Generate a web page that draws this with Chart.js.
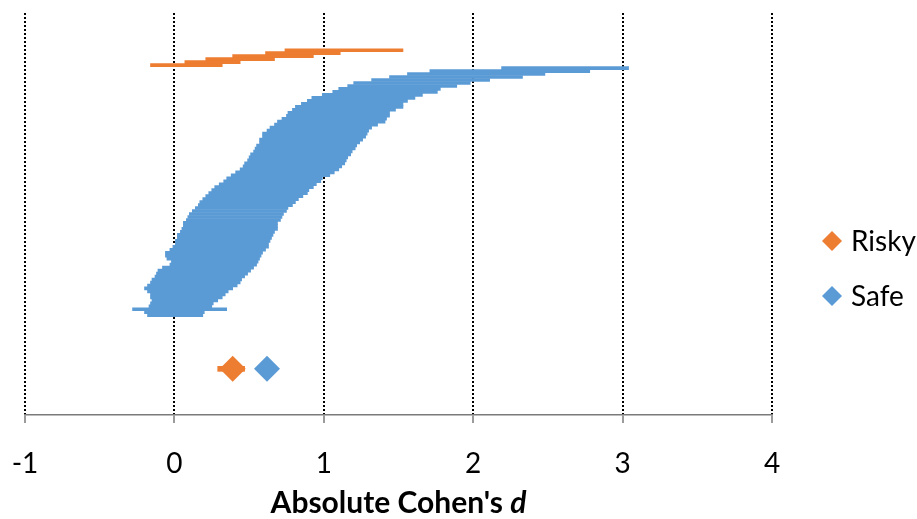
<!DOCTYPE html>
<html><head><meta charset="utf-8">
<script src="https://cdn.jsdelivr.net/npm/chart.js@4.4.1/dist/chart.umd.min.js"></script>
<style>html,body{margin:0;padding:0;background:#fff}</style>
</head><body>
<canvas id="c" width="917" height="519"></canvas>
<script>
// ---- data ----
const xTickValues = [-1, 0, 1, 2, 3, 4];
const groups = ['Risky', 'Safe'];
const riskyLower = [0.74, 0.61, 0.39, 0.21, 0.07, -0.16];
const riskyUpper = [1.53, 1.11, 0.93, 0.67, 0.44, 0.32];
const safeLower = [2.19,1.71,1.56,1.44,1.32,1.20,1.16,1.10,1.06,0.99,0.92,0.89,0.85,0.81,0.79,0.76,0.75,0.72,0.69,0.67,0.64,0.62,0.59,0.59,0.57,0.57,0.55,0.54,0.53,0.51,0.50,0.49,0.47,0.46,0.44,0.41,0.38,0.35,0.33,0.30,0.27,0.25,0.23,0.21,0.19,0.17,0.16,0.14,0.12,0.10,0.09,0.08,0.06,0.06,0.05,0.04,0.02,0.02,0.00,0.00,-0.01,-0.03,-0.06,-0.06,-0.05,-0.02,-0.03,-0.08,-0.11,-0.12,-0.13,-0.15,-0.16,-0.18,-0.20,-0.18,-0.16,-0.16,-0.15,-0.16,-0.17,-0.28,-0.20,-0.18];
const safeUpper = [3.04,2.78,2.48,2.33,2.11,1.98,1.89,1.78,1.76,1.66,1.61,1.56,1.53,1.53,1.48,1.44,1.44,1.42,1.41,1.36,1.32,1.30,1.29,1.28,1.26,1.24,1.22,1.21,1.19,1.18,1.16,1.15,1.14,1.12,1.10,1.07,1.04,0.99,0.98,0.95,0.93,0.90,0.89,0.86,0.83,0.81,0.79,0.76,0.75,0.73,0.72,0.71,0.69,0.69,0.69,0.67,0.66,0.65,0.64,0.63,0.63,0.61,0.59,0.58,0.57,0.56,0.55,0.53,0.51,0.49,0.47,0.45,0.44,0.42,0.39,0.36,0.34,0.32,0.29,0.26,0.25,0.35,0.20,0.19];
const pooledEffect = [0.39, 0.62];
const pooledLower = [0.29, 0.57];
const pooledUpper = [0.47, 0.67];
const pooledRow = 107;
const groupColors = ['#ED7D31', '#5B9BD5'];

// rows: risky studies first, then safe studies, pooled estimates below
const riskyData = riskyLower.map((lo, i) => ({ x: [lo, riskyUpper[i]], y: i }));
const safeData = safeLower.map((lo, i) => ({ x: [lo, safeUpper[i]], y: riskyLower.length + i }));

const titlePlugin = {
  id: 'axisTitle',
  afterDraw(chart) {
    const { ctx, chartArea } = chart;
    const a = "Absolute Cohen's ", b = 'd';
    ctx.save();
    ctx.fillStyle = '#000';
    ctx.textBaseline = 'middle';
    ctx.font = 'bold 30px Lato';
    const wa = ctx.measureText(a).width;
    ctx.font = 'italic bold 30px Lato';
    const wb = ctx.measureText(b).width;
    const x0 = (chartArea.left + chartArea.right) / 2 - (wa + wb) / 2;
    const y = 503;
    ctx.font = 'bold 30px Lato';
    ctx.fillText(a, x0, y);
    ctx.font = 'italic bold 30px Lato';
    ctx.fillText(b, x0 + wa, y);
    ctx.restore();
  }
};

const legendPlugin = {
  id: 'sideLegend',
  afterDraw(chart) {
    const { ctx, chartArea } = chart;
    ctx.save();
    ctx.font = '28px Lato';
    ctx.textBaseline = 'middle';
    ctx.textAlign = 'left';
    groups.forEach((g, i) => {
      const cx = chartArea.right + 60, cy = 241 + i * 55;
      ctx.fillStyle = groupColors[i];
      ctx.beginPath();
      ctx.moveTo(cx, cy - 10); ctx.lineTo(cx + 10, cy); ctx.lineTo(cx, cy + 10); ctx.lineTo(cx - 10, cy);
      ctx.closePath(); ctx.fill();
      ctx.fillStyle = '#000';
      ctx.fillText(g, cx + 19, cy + 1);
    });
    ctx.restore();
  }
};

const barCommon = { type: 'bar', indexAxis: 'y', grouped: false, borderWidth: 0, borderSkipped: false, order: 2 };

new Chart(document.getElementById('c'), {
  type: 'scatter',
  data: {
    datasets: [
      { ...barCommon, label: 'Risky studies', data: riskyData, backgroundColor: groupColors[0], barThickness: 3 },
      { ...barCommon, label: 'Safe studies', data: safeData, backgroundColor: groupColors[1], barThickness: 3 },
      { ...barCommon, label: 'Pooled CI', data: groups.map((g, i) => ({ x: [pooledLower[i], pooledUpper[i]], y: pooledRow })),
        backgroundColor: groupColors, barThickness: 5 },
      { type: 'scatter', label: groups[0], data: [{ x: pooledEffect[0], y: pooledRow }], pointStyle: 'rectRot',
        pointRadius: 13, backgroundColor: groupColors[0], borderColor: groupColors[0], borderWidth: 0, order: 0 },
      { type: 'scatter', label: groups[1], data: [{ x: pooledEffect[1], y: pooledRow }], pointStyle: 'rectRot',
        pointRadius: 13, backgroundColor: groupColors[1], borderColor: groupColors[1], borderWidth: 0, order: 0 }
    ]
  },
  options: {
    responsive: false,
    animation: false,
    layout: { padding: { left: 25, right: 145, top: 8, bottom: 14.4 } },
    plugins: { legend: { display: false }, tooltip: { enabled: false } },
    scales: {
      x: {
        type: 'linear', min: xTickValues[0], max: xTickValues[xTickValues.length - 1],
        afterBuildTicks: (s) => { s.ticks = xTickValues.map(v => ({ value: v })); },
        afterFit: (s) => { s.paddingLeft = 0; s.paddingRight = 0; },
        grid: { color: '#000', lineWidth: 2, tickLength: 8, tickColor: '#7a7a7a', tickWidth: 1.5 },
        border: { display: true, color: '#7a7a7a', width: 1.5, dash: [2, 2] },
        ticks: { color: '#000', font: { family: 'Lato', size: 28 }, padding: 24 }
      },
      y: { type: 'linear', display: false, reverse: true, offset: false, min: -12.5, max: 122.5 }
    }
  },
  plugins: [titlePlugin, legendPlugin]
});
</script>
</body></html>
